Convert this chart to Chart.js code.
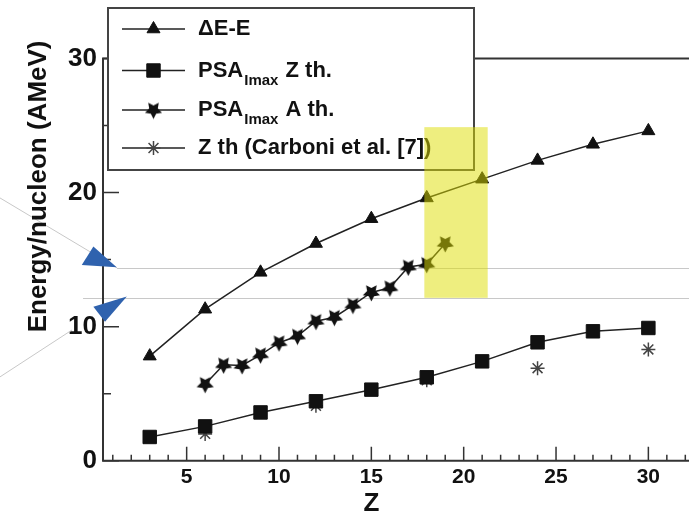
<!DOCTYPE html>
<html>
<head>
<meta charset="utf-8">
<script src="https://cdn.jsdelivr.net/npm/chart.js@4.4.0/dist/chart.umd.min.js"></script>
<style>
html, body { margin: 0; padding: 0; background: #fff; overflow: hidden; }
</style>
</head>
<body>
<canvas id="chart" width="689" height="517"></canvas>
<script>
// Data
const zDeltaE = [3, 6, 9, 12, 15, 18, 21, 24, 27, 30];
const deltaE = [7.8, 11.3, 14.05, 16.2, 18.05, 19.6, 21.0, 22.4, 23.6, 24.6];
const zPsaZ = [3, 6, 9, 12, 15, 18, 21, 24, 27, 30];
const psaZ = [1.77, 2.56, 3.6, 4.43, 5.3, 6.22, 7.41, 8.83, 9.65, 9.9];
const zPsaA = [6, 7, 8, 9, 10, 11, 12, 13, 14, 15, 16, 17, 18, 19];
const psaA = [5.7, 7.15, 7.1, 7.9, 8.8, 9.3, 10.4, 10.7, 11.6, 12.55, 12.9, 14.45, 14.65, 16.2];
const zCarboni = [6, 12, 18, 24, 30];
const carboni = [2.0, 4.1, 6.0, 6.9, 8.3];
const xTicks = [5, 10, 15, 20, 25, 30];
const yTicks = [0, 10, 20, 30];

// annotations (in data units)
const highlightBox = { z0: 17.87, z1: 21.3, e0: 12.15, e1: 24.88 };
const guideLines = [ { from: 1.23, e: 14.4 }, { from: -0.61, e: 12.15 } ];
const calloutLines = [
    [[-5.11, 19.6], [1.23, 14.38]],
    [[-5.11, 6.25], [-1.21, 9.75]]
];
const arrowHeads = [
    [[-0.68, 14.6], [-0.05, 15.97], [1.21, 14.43]],
    [[-0.05, 11.49], [1.76, 12.24], [0.58, 10.37]]
];

const FONT = "'Liberation Sans', Arial, Helvetica, sans-serif";
Chart.defaults.font.family = FONT;
Chart.defaults.color = '#111';

function pts(xs, ys) {
    return xs.map((x, i) => ({ x: x, y: ys[i] }));
}

// filled star, one point down
function makeStar(size) {
    const c = document.createElement('canvas');
    c.width = size; c.height = size;
    const g = c.getContext('2d');
    const R = size / 2 - 0.5, r = R * 0.5, cx = size / 2, cy = size / 2;
    g.beginPath();
    for (let i = 0; i < 10; i++) {
        const a = Math.PI / 2 + i * Math.PI / 5;
        const rad = i % 2 ? r : R;
        g.lineTo(cx + rad * Math.cos(a), cy + rad * Math.sin(a));
    }
    g.closePath();
    g.fillStyle = '#111';
    g.fill();
    return c;
}
const starImg = makeStar(19);

const lineCol = '#222';
const markers = [
    { pointStyle: 'triangle', radius: 7.5, fill: '#111', stroke: '#111', bw: 1 },
    { pointStyle: 'rect', radius: 9.5, fill: '#111', stroke: '#111', bw: 1 },
    { pointStyle: starImg, radius: 9, fill: '#111', stroke: '#111', bw: 0 },
    { pointStyle: 'star', radius: 7, fill: '#444', stroke: '#444', bw: 1.5 }
];

const legendRows = [
    { main: 'ΔE-E', sub: '', rest: '' },
    { main: 'PSA', sub: 'Imax', rest: ' Z th.' },
    { main: 'PSA', sub: 'Imax', rest: ' A th.' },
    { main: 'Z th (Carboni et al. [7])', sub: '', rest: '' }
];

const decor = {
    id: 'decor',
    beforeDatasetsDraw(chart) {
        const { ctx, chartArea: a, scales: { x, y } } = chart;
        ctx.save();
        ctx.strokeStyle = '#c8c8c8';
        ctx.lineWidth = 1;
        guideLines.forEach(g => {
            const py = Math.round(y.getPixelForValue(g.e)) + 0.5;
            ctx.beginPath();
            ctx.moveTo(x.getPixelForValue(g.from), py);
            ctx.lineTo(chart.width, py);
            ctx.stroke();
        });
        calloutLines.forEach(l => {
            ctx.beginPath();
            ctx.moveTo(x.getPixelForValue(l[0][0]), y.getPixelForValue(l[0][1]));
            ctx.lineTo(x.getPixelForValue(l[1][0]), y.getPixelForValue(l[1][1]));
            ctx.stroke();
        });
        ctx.restore();
    },
    afterDatasetsDraw(chart) {
        const { ctx, chartArea: a, scales: { x, y } } = chart;
        ctx.save();
        ctx.strokeStyle = '#333';
        ctx.lineWidth = 2;
        ctx.beginPath();
        ctx.moveTo(chart.width, a.top); ctx.lineTo(a.left, a.top);
        ctx.lineTo(a.left, a.bottom); ctx.lineTo(chart.width, a.bottom);
        ctx.stroke();
        // ticks pointing inside
        ctx.lineWidth = 1.5;
        ctx.beginPath();
        for (let z = 1; z <= 32; z++) {
            const px = x.getPixelForValue(z);
            const len = z % 5 === 0 ? 14 : 6;
            ctx.moveTo(px, a.bottom); ctx.lineTo(px, a.bottom - len);
        }
        for (let e = 0; e <= 30; e += 5) {
            const py = y.getPixelForValue(e);
            const len = e % 10 === 0 ? 16 : 8;
            ctx.moveTo(a.left, py); ctx.lineTo(a.left + len, py);
        }
        ctx.stroke();
        ctx.restore();
    },
    afterDraw(chart) {
        const { ctx, chartArea: a, scales: { x, y } } = chart;
        ctx.save();

        // axis titles
        ctx.fillStyle = '#111';
        ctx.font = 'bold 26px ' + FONT;
        ctx.textAlign = 'center';
        ctx.textBaseline = 'middle';
        ctx.fillText('Z', x.getPixelForValue(15), a.bottom + 43);
        ctx.save();
        ctx.translate(39, a.top - 18);
        ctx.rotate(-Math.PI / 2);
        ctx.textAlign = 'right';
        ctx.fillText('Energy/nucleon (AMeV)', 0, 0);
        ctx.restore();

        // legend box
        const L = 108, T = 8, R = 474, B = 170;
        ctx.fillStyle = '#fff';
        ctx.fillRect(L, T, R - L, B - T);
        ctx.strokeStyle = '#444';
        ctx.lineWidth = 2;
        ctx.strokeRect(L, T, R - L, B - T);
        const rowY = [29, 70.5, 110, 148];
        legendRows.forEach((row, i) => {
            const ry = rowY[i];
            const m = markers[i];
            ctx.strokeStyle = lineCol;
            ctx.lineWidth = 1.5;
            ctx.beginPath();
            ctx.moveTo(122, ry); ctx.lineTo(185, ry);
            ctx.stroke();
            ctx.fillStyle = m.fill;
            ctx.strokeStyle = m.stroke;
            ctx.lineWidth = m.bw;
            Chart.helpers.drawPoint(ctx, { pointStyle: m.pointStyle, radius: m.radius, rotation: 0, borderWidth: m.bw }, 153.5, ry);
            ctx.fillStyle = '#111';
            ctx.textAlign = 'left';
            ctx.textBaseline = 'middle';
            ctx.font = 'bold 22px ' + FONT;
            let tx = 198;
            ctx.fillText(row.main, tx, ry);
            tx += ctx.measureText(row.main).width;
            if (row.sub) {
                ctx.font = 'bold 15px ' + FONT;
                ctx.fillText(row.sub, tx + 1, ry + 10);
                tx += ctx.measureText(row.sub).width + 2;
                ctx.font = 'bold 22px ' + FONT;
                ctx.fillText(row.rest, tx, ry);
            }
        });

        // yellow highlight
        const bx0 = x.getPixelForValue(highlightBox.z0), bx1 = x.getPixelForValue(highlightBox.z1);
        const by0 = y.getPixelForValue(highlightBox.e1), by1 = y.getPixelForValue(highlightBox.e0);
        ctx.fillStyle = 'rgba(221,221,0,0.5)';
        ctx.fillRect(bx0, by0, bx1 - bx0, by1 - by0);

        // blue arrow heads
        ctx.fillStyle = '#2f62ae';
        arrowHeads.forEach(h => {
            ctx.beginPath();
            h.forEach((p, k) => {
                const px = x.getPixelForValue(p[0]), py = y.getPixelForValue(p[1]);
                if (k === 0) ctx.moveTo(px, py); else ctx.lineTo(px, py);
            });
            ctx.closePath();
            ctx.fill();
        });
        ctx.restore();
    }
};

const datasets = [
    { label: 'ΔE-E', data: pts(zDeltaE, deltaE), showLine: true },
    { label: 'PSA Imax Z th.', data: pts(zPsaZ, psaZ), showLine: true },
    { label: 'PSA Imax A th.', data: pts(zPsaA, psaA), showLine: true },
    { label: 'Z th (Carboni et al. [7])', data: pts(zCarboni, carboni), showLine: false }
].map((d, i) => Object.assign(d, {
    borderColor: lineCol,
    borderWidth: 1.5,
    tension: 0,
    pointStyle: markers[i].pointStyle,
    pointRadius: markers[i].radius,
    pointHoverRadius: markers[i].radius,
    pointBackgroundColor: markers[i].fill,
    pointBorderColor: markers[i].stroke,
    pointBorderWidth: markers[i].bw
}));

new Chart(document.getElementById('chart'), {
    type: 'scatter',
    data: { datasets: datasets },
    options: {
        responsive: false,
        animation: false,
        layout: { autoPadding: false, padding: { top: 58.5, right: 0, left: 0, bottom: 0 } },
        plugins: { legend: { display: false }, tooltip: { enabled: false } },
        scales: {
            x: {
                type: 'linear',
                min: 0.47,
                max: 32.2,
                afterFit(scale) {
                    scale.height = 56.3;
                    scale.paddingLeft = 0;
                    scale.paddingRight = 0;
                },
                afterBuildTicks(scale) { scale.ticks = xTicks.map(v => ({ value: v })); },
                grid: { display: false, drawTicks: false },
                border: { display: false },
                ticks: { padding: 4, font: { size: 21, weight: 'bold' }, color: '#111', maxRotation: 0 }
            },
            y: {
                type: 'linear',
                min: 0,
                max: 30,
                afterFit(scale) {
                    scale.width = 103;
                    scale.paddingTop = 0;
                    scale.paddingBottom = 0;
                },
                afterBuildTicks(scale) { scale.ticks = yTicks.map(v => ({ value: v })); },
                grid: { display: false, drawTicks: false },
                border: { display: false },
                ticks: { padding: 6, font: { size: 26, weight: 'bold' }, color: '#111' }
            }
        }
    },
    plugins: [decor]
});
</script>
</body>
</html>
